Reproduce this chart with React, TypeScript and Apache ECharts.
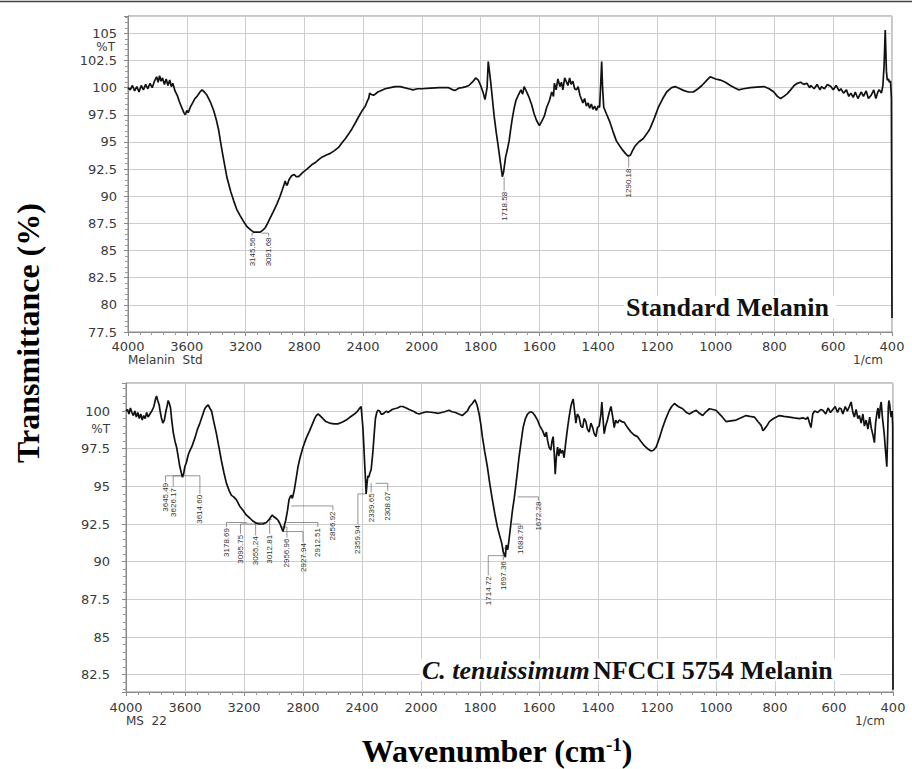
import { useEffect, useRef } from "react";
import * as echarts from "echarts";

// ---- Spectra: [wavenumber (cm-1), %T] ----
const topSpectrum: [number, number][] = [
  [4000, 100.0], [3985, 99.8], [3970, 100.2], [3955, 99.7], [3940, 100.1], [3925, 99.6], [3910, 100.2],
  [3895, 99.8], [3880, 100.3], [3865, 99.9], [3850, 100.4], [3835, 100.0], [3820, 100.6], [3805, 101.0],
  [3795, 100.5], [3785, 101.1], [3775, 100.6], [3765, 100.9], [3752, 100.3], [3740, 100.8], [3728, 100.2],
  [3716, 100.7], [3705, 100.1], [3695, 100.4], [3680, 99.7], [3665, 99.3], [3650, 98.7], [3635, 98.2],
  [3620, 97.7], [3610, 97.5], [3600, 97.9], [3590, 97.7], [3576, 98.2], [3560, 98.6], [3545, 99.0],
  [3530, 99.2], [3510, 99.6], [3497, 99.8], [3480, 99.6], [3462, 99.3], [3440, 98.7], [3417, 97.9],
  [3400, 97.1], [3383, 96.1], [3370, 95.0], [3360, 94.2], [3340, 92.7], [3326, 91.7], [3300, 90.4],
  [3281, 89.6], [3260, 88.8], [3236, 88.2], [3210, 87.6], [3190, 87.2], [3165, 86.9], [3145, 86.7],
  [3120, 86.7], [3100, 86.7], [3080, 86.9], [3066, 87.1], [3050, 87.5], [3032, 88.0], [3010, 88.6],
  [2986, 89.3], [2965, 90.0], [2952, 90.5], [2940, 91.0], [2930, 91.4], [2920, 91.0], [2914, 91.1],
  [2905, 91.5], [2896, 91.7], [2885, 91.9], [2868, 92.0], [2855, 91.8], [2839, 91.8], [2810, 92.2],
  [2782, 92.5], [2750, 92.9], [2725, 93.1], [2700, 93.4], [2680, 93.6], [2650, 93.8], [2623, 93.95],
  [2595, 94.2], [2567, 94.5], [2545, 94.9], [2521, 95.3], [2500, 95.7], [2476, 96.2], [2455, 96.7],
  [2431, 97.3], [2410, 97.8], [2385, 98.3], [2370, 98.8], [2362, 99.0], [2355, 99.5], [2347, 99.4],
  [2330, 99.3], [2317, 99.4], [2300, 99.6], [2283, 99.7], [2250, 99.9], [2215, 100.0], [2180, 100.1],
  [2147, 100.1], [2120, 100.0], [2090, 99.9], [2060, 99.8], [2030, 99.9], [2000, 99.9], [1970, 99.95],
  [1940, 100.0], [1909, 100.0], [1895, 99.8], [1886, 99.75], [1875, 99.95], [1863, 100.0], [1850, 100.1],
  [1840, 100.2], [1825, 100.6], [1817, 100.9], [1808, 100.7], [1800, 100.2], [1792, 99.6], [1785, 98.9],
  [1778, 100.0], [1774, 102.4], [1770, 101.5], [1766, 100.6], [1760, 99.0], [1754, 97.4], [1747, 95.9],
  [1740, 94.6], [1733, 93.2], [1726, 91.8], [1722, 92.2], [1715, 93.6], [1709, 94.3], [1703, 95.1],
  [1697, 96.3], [1692, 97.2], [1686, 98.1], [1680, 98.8], [1672, 99.3], [1663, 99.8], [1657, 99.4],
  [1652, 100.1], [1645, 99.7], [1635, 99.1], [1626, 98.4], [1618, 97.6], [1610, 97.0], [1600, 96.5],
  [1592, 96.9], [1583, 97.4], [1575, 98.2], [1566, 98.8], [1558, 99.6], [1552, 99.2], [1549, 100.4],
  [1543, 99.8], [1537, 100.8], [1530, 100.1], [1525, 100.5], [1520, 99.8], [1514, 100.9], [1509, 100.6],
  [1503, 100.2], [1497, 100.9], [1492, 100.3], [1486, 100.6], [1480, 99.9], [1474, 99.8], [1468, 100.1],
  [1462, 99.3], [1452, 98.6], [1446, 99.0], [1440, 98.3], [1434, 98.6], [1429, 98.1], [1423, 98.5],
  [1418, 98.0], [1412, 98.3], [1406, 97.9], [1400, 98.3], [1395, 98.2], [1391, 100.5], [1388, 102.4],
  [1385, 100.0], [1381, 98.2], [1372, 97.6], [1361, 96.9], [1350, 96.0], [1338, 95.1], [1326, 94.6],
  [1315, 94.2], [1306, 93.9], [1298, 93.7], [1290, 93.8], [1283, 94.2], [1275, 94.6], [1262, 95.0],
  [1247, 95.3], [1236, 95.7], [1224, 96.2], [1210, 97.1], [1195, 98.2], [1180, 99.0], [1167, 99.6],
  [1150, 100.0], [1138, 100.1], [1125, 99.95], [1110, 99.75], [1093, 99.6], [1076, 99.6], [1060, 99.9],
  [1047, 100.2], [1033, 100.6], [1019, 101.0], [1000, 100.8], [984, 100.7], [967, 100.5], [950, 100.2],
  [936, 100.0], [922, 99.8], [905, 99.9], [882, 100.0], [860, 100.05], [836, 100.1], [818, 99.9],
  [802, 99.6], [790, 99.2], [779, 99.0], [768, 99.2], [756, 99.45], [745, 99.8], [733, 100.2],
  [722, 100.4], [711, 100.5], [700, 100.3], [690, 100.4], [680, 100.0], [676, 100.2], [665, 99.9],
  [655, 100.3], [645, 99.8], [640, 100.1], [630, 99.9], [620, 100.3], [608, 100.1], [600, 99.8],
  [590, 100.2], [580, 99.7], [574, 99.9], [565, 99.5], [555, 99.8], [547, 99.2], [540, 99.5],
  [532, 99.1], [525, 99.6], [516, 99.0], [505, 99.6], [497, 99.2], [488, 99.7], [480, 99.0],
  [471, 99.3], [462, 99.8], [455, 99.0], [448, 99.6], [443, 99.8], [436, 99.5], [431, 100.2],
  [427, 102.0], [423, 105.3], [419, 101.5], [416, 100.7], [412, 100.8], [409, 100.5], [405, 100.6],
  [402, 99.0], [400, 78.8],
];

const bottomSpectrum: [number, number][] = [
  [4000, 100.0], [3990, 100.1], [3980, 99.8], [3970, 100.2], [3960, 99.9], [3950, 99.7], [3940, 100.0],
  [3930, 99.6], [3920, 99.9], [3910, 99.5], [3900, 99.8], [3890, 99.4], [3880, 99.7], [3870, 99.5],
  [3860, 99.9], [3850, 99.6], [3838, 99.8], [3825, 100.0], [3811, 100.3], [3800, 100.8], [3793, 101.0],
  [3785, 100.7], [3775, 100.4], [3767, 99.9], [3759, 99.5], [3750, 99.2], [3740, 99.4], [3729, 100.0],
  [3720, 100.4], [3714, 100.7], [3706, 100.5], [3698, 100.2], [3690, 99.4], [3680, 98.6], [3668, 98.0],
  [3657, 97.6], [3645, 96.9], [3635, 96.3], [3625, 95.9], [3617, 95.6], [3610, 95.8], [3601, 96.3],
  [3590, 96.6], [3578, 97.1], [3565, 97.4], [3555, 97.6], [3544, 97.9], [3530, 98.3], [3515, 98.8],
  [3499, 99.2], [3485, 99.6], [3466, 100.15], [3455, 100.3], [3443, 100.4], [3432, 100.2], [3420, 100.0],
  [3405, 99.3], [3387, 98.5], [3370, 97.6], [3353, 96.7], [3336, 95.9], [3319, 95.2], [3300, 94.7],
  [3285, 94.4], [3270, 94.3], [3251, 94.1], [3230, 93.7], [3206, 93.4], [3185, 93.1], [3161, 92.9],
  [3140, 92.7], [3116, 92.55], [3095, 92.5], [3071, 92.5], [3060, 92.55], [3048, 92.6], [3035, 92.75],
  [3026, 92.85], [3016, 93.0], [3008, 93.1], [3000, 93.0], [2992, 92.95], [2980, 92.85], [2969, 92.75],
  [2958, 92.55], [2947, 92.3], [2940, 92.1], [2936, 92.0], [2930, 92.2], [2924, 92.5], [2917, 92.75],
  [2905, 93.4], [2895, 94.1], [2887, 94.3], [2879, 94.4], [2872, 94.2], [2868, 94.2], [2860, 94.7],
  [2850, 95.3], [2834, 96.3], [2820, 96.9], [2800, 97.6], [2778, 98.2], [2755, 98.7], [2738, 99.1],
  [2721, 99.5], [2710, 99.7], [2699, 99.8], [2685, 99.7], [2665, 99.5], [2645, 99.3], [2620, 99.2],
  [2590, 99.15], [2564, 99.15], [2535, 99.25], [2507, 99.4], [2480, 99.6], [2451, 99.8], [2430, 100.0],
  [2415, 100.2], [2406, 100.3], [2400, 99.6], [2394, 98.9], [2388, 97.8], [2383, 96.7], [2377, 95.6],
  [2372, 94.5], [2366, 95.2], [2360, 95.7], [2354, 95.6], [2346, 95.9], [2338, 96.1], [2333, 96.6],
  [2327, 97.2], [2318, 98.4], [2309, 99.5], [2300, 99.9], [2293, 100.05], [2280, 100.0], [2270, 99.8],
  [2259, 99.8], [2245, 99.9], [2235, 100.0], [2225, 99.9], [2210, 100.0], [2195, 100.1], [2180, 100.15],
  [2160, 100.2], [2140, 100.3], [2124, 100.3], [2100, 100.2], [2080, 100.1], [2068, 100.05], [2045, 99.95],
  [2030, 99.85], [2011, 99.8], [2000, 99.85], [1980, 99.95], [1960, 99.9], [1940, 99.85], [1920, 99.95],
  [1905, 100.05], [1895, 99.95], [1883, 99.9], [1872, 99.8], [1860, 99.7], [1852, 99.85], [1843, 100.0],
  [1835, 100.3], [1826, 100.5], [1817, 100.75], [1810, 100.4], [1803, 99.8], [1797, 99.1], [1792, 98.3],
  [1784, 97.3], [1775, 96.3], [1767, 95.2], [1758, 94.1], [1750, 93.2], [1741, 92.3], [1733, 91.7],
  [1726, 91.2], [1722, 90.7], [1718, 90.5], [1714, 90.3], [1711, 91.1], [1706, 90.8], [1702, 91.4],
  [1696, 92.4], [1690, 93.4], [1684, 94.2], [1679, 95.0], [1673, 96.0], [1668, 96.9], [1661, 97.9],
  [1654, 98.9], [1646, 99.5], [1639, 99.8], [1630, 99.95], [1622, 99.9], [1614, 99.7], [1605, 99.4],
  [1597, 99.0], [1588, 98.7], [1580, 98.3], [1575, 98.6], [1571, 98.05], [1566, 97.6], [1560, 97.4],
  [1556, 98.0], [1552, 98.3], [1548, 97.1], [1545, 95.8], [1541, 97.0], [1537, 97.6], [1533, 97.0],
  [1529, 97.5], [1526, 97.2], [1520, 97.4], [1515, 96.9], [1510, 97.8], [1503, 98.9], [1498, 99.6],
  [1492, 100.3], [1488, 100.6], [1484, 100.8], [1480, 100.1], [1475, 99.2], [1470, 99.8], [1464, 99.6],
  [1458, 99.0], [1452, 98.9], [1447, 99.5], [1441, 99.3], [1436, 98.8], [1430, 98.6], [1424, 99.2],
  [1418, 98.9], [1413, 98.5], [1407, 98.3], [1402, 98.9], [1396, 99.0], [1390, 99.8], [1387, 100.6],
  [1383, 99.5], [1379, 98.5], [1374, 99.0], [1368, 99.4], [1362, 99.9], [1356, 100.3], [1350, 99.6],
  [1345, 98.9], [1340, 99.4], [1334, 99.2], [1328, 99.4], [1320, 99.3], [1311, 99.25], [1300, 98.9],
  [1288, 98.6], [1277, 98.4], [1266, 98.3], [1255, 98.0], [1243, 97.7], [1232, 97.5], [1220, 97.35],
  [1212, 97.4], [1203, 97.6], [1192, 98.2], [1181, 98.9], [1170, 99.5], [1158, 100.05], [1150, 100.3],
  [1141, 100.5], [1128, 100.3], [1113, 100.15], [1100, 99.9], [1090, 99.8], [1078, 99.95], [1067, 100.05],
  [1056, 99.85], [1045, 99.7], [1034, 99.95], [1022, 100.15], [1011, 100.1], [1000, 100.05], [983, 99.7],
  [966, 99.3], [950, 99.35], [932, 99.4], [915, 99.55], [898, 99.7], [885, 99.65], [870, 99.6],
  [858, 99.3], [847, 99.05], [841, 98.7], [836, 98.8], [828, 99.0], [819, 99.3], [805, 99.5],
  [785, 99.7], [770, 99.65], [751, 99.6], [735, 99.55], [717, 99.5], [705, 99.55], [695, 99.45],
  [689, 99.6], [683, 99.2], [678, 98.9], [672, 99.8], [666, 100.0], [655, 99.9], [645, 100.1],
  [638, 100.05], [628, 99.8], [620, 100.2], [612, 99.9], [604, 100.1], [596, 100.3], [588, 99.9],
  [582, 100.2], [576, 100.15], [570, 99.8], [562, 100.3], [555, 100.0], [548, 100.3], [542, 100.6],
  [536, 99.9], [531, 99.6], [525, 100.1], [519, 99.5], [514, 99.7], [508, 99.2], [502, 99.8],
  [497, 99.0], [491, 99.4], [485, 98.8], [479, 99.6], [474, 98.9], [468, 98.4], [463, 97.9],
  [459, 99.2], [455, 99.8], [451, 100.2], [447, 99.5], [443, 100.3], [440, 100.6], [436, 99.6],
  [432, 98.9], [429, 98.3], [426, 97.5], [423, 96.8], [421, 96.3], [418, 98.5], [416, 100.2],
  [414, 100.7], [411, 100.4], [408, 99.8], [406, 99.6], [403, 100.0], [401, 99.0], [400, 81.5],
];

// ---- Peak annotations ----
const topPeakLabels = ["3145.56", "3091.68", "1718.58", "1290.18"];
const topPeakPoints: [number, number][] = [[3145, 86.6], [3092, 86.6], [1718.6, 91.7], [1290, 93.7]];
const topPeakLabelTops: [number, number][] = [[3156, 86.3], [3043, 86.3], [1720, 90.5], [1296, 92.65]];

const bottomPeakLabels = [
  "3645.49", "3626.17", "3614.60", "3178.69", "3095.75", "3055.24", "3012.81", "2956.96",
  "2927.94", "2912.51", "2856.92", "2359.94", "2339.65", "2308.07", "1714.72", "1697.36",
  "1683.79", "1672.28",
];
const bottomPeakPoints: [number, number][] = [
  [3623, 95.7], [3620, 95.7], [3614, 95.7], [3178, 92.6], [3095, 92.5], [3055, 92.6], [3012, 92.8],
  [2956, 92.3], [2936, 92.0], [2912, 92.6], [2880, 93.7], [2372, 94.5], [2340, 95.2], [2308, 95.2],
  [1714, 90.4], [1705, 90.9], [1690, 92.5], [1672, 94.3],
];
const bottomPeakLabelTops: [number, number][] = [
  [3732, 95.3], [3680, 94.96], [3499, 94.5], [3319, 92.3], [3224, 91.85], [3121, 91.75], [3026, 91.85],
  [2909, 91.6], [2800, 91.3], [2699, 92.3], [2597, 93.4], [2428, 92.5], [2338, 94.6], [2225, 94.7],
  [1772, 89.1], [1721, 90.1], [1662, 92.5], [1602, 94.05],
];

// ---- Axis ticks ----
const xTickWavenumbers = [4000, 3600, 3200, 2800, 2400, 2000, 1800, 1600, 1400, 1200, 1000, 800, 600, 400];
const topYRange = [77.5, 106.6];
const bottomYRange = [81.35, 101.86];

// Instrument x scale: 400 cm-1 per division above 2000, 200 cm-1 per division below
const toU = (w: number) => (w >= 2000 ? (4000 - w) / 400 : 5 + (2000 - w) / 200);
const fromU = (u: number) => (u <= 5 ? 4000 - u * 400 : 2000 - (u - 5) * 200);

const TICK_FONT = '"DejaVu Sans", sans-serif';
const SERIF = '"Liberation Serif", "Times New Roman", serif';

function makeX(gridIndex: number) {
  return {
    type: "value" as const,
    gridIndex,
    min: 0,
    max: xTickWavenumbers.length - 1,
    interval: 1,
    axisLine: { show: true, lineStyle: { color: "#8a8a8a", width: 1 } },
    axisTick: { show: true, length: 4, lineStyle: { color: "#8a8a8a" } },
    minorTick: { show: true, splitNumber: 5, length: 3, lineStyle: { color: "#9a9a9a" } },
    splitLine: { show: true, lineStyle: { color: "#cdcdcd", width: 1 } },
    axisLabel: {
      margin: gridIndex === 0 ? 8 : 9,
      fontFamily: TICK_FONT,
      fontSize: 13,
      lineHeight: 13,
      color: "#3a3a3a",
      formatter: (v: number) => String(fromU(v)),
    },
  };
}

function makeY(gridIndex: number, range: number[], margin: number) {
  return {
    type: "value" as const,
    gridIndex,
    min: range[0],
    max: range[1],
    minInterval: 2.5,
    maxInterval: 2.5,
    axisLine: { show: true, lineStyle: { color: "#8a8a8a", width: 1 } },
    axisTick: { show: true, length: 4, lineStyle: { color: "#8a8a8a" } },
    minorTick: { show: true, splitNumber: 5, length: 3, lineStyle: { color: "#9a9a9a" } },
    splitLine: { show: true, lineStyle: { color: "#cdcdcd", width: 1 } },
    axisLabel: {
      margin,
      fontFamily: TICK_FONT,
      fontSize: 13,
      lineHeight: 12,
      color: "#3a3a3a",
      formatter: (v: number) => {
        const k = v / 2.5;
        return Math.abs(k - Math.round(k)) < 1e-6 ? String(Math.round(v * 10) / 10) : "";
      },
    },
  };
}

function peakSeries(
  gridIndex: number,
  labels: string[],
  points: [number, number][],
  tops: [number, number][]
) {
  return {
    type: "custom" as const,
    xAxisIndex: gridIndex,
    yAxisIndex: gridIndex,
    silent: true,
    clip: false,
    data: points.map((p, i) => [toU(p[0]), p[1], toU(tops[i][0]), tops[i][1]]),
    renderItem: (params: any, api: any) => {
      const p = api.coord([api.value(0), api.value(1)]);
      const l = api.coord([api.value(2), api.value(3)]);
      return {
        type: "group",
        children: [
          {
            type: "polyline",
            shape: { points: [p, [l[0], p[1]], l] },
            style: { stroke: "#666", lineWidth: 0.7, fill: null },
          },
          {
            type: "text",
            x: l[0],
            y: l[1] + 1,
            rotation: Math.PI / 2,
            style: {
              text: labels[params.dataIndex],
              fontSize: 8,
              fontFamily: '"Liberation Sans", Arial, sans-serif',
              fill: "#333",
              align: "right",
              verticalAlign: "middle",
              textAlign: "right",
              textVerticalAlign: "middle",
            },
          },
        ],
      };
    },
  };
}

export default function App() {
  const ref = useRef<HTMLDivElement>(null);

  useEffect(() => {
    if (!ref.current) return;
    const chart = echarts.init(ref.current, undefined, { renderer: "svg" });

    const smallText = (text: string, x: number, y: number, align = "left") => ({
      type: "text",
      x,
      y,
      z: 100,
      silent: true,
      style: {
        text,
        fontFamily: TICK_FONT,
        fontSize: 12,
        lineHeight: 11,
        fill: "#3a3a3a",
        align,
        verticalAlign: "middle",
        textAlign: align,
        textVerticalAlign: "middle",
      },
    });

    chart.setOption({
      animation: false,
      backgroundColor: "#ffffff",
      grid: [
        { left: 128, right: 20, top: 16, height: 316, show: true, borderColor: "#8a8a8a", borderWidth: 1, backgroundColor: "transparent" },
        { left: 126, right: 19, top: 383, height: 309, show: true, borderColor: "#8a8a8a", borderWidth: 1, backgroundColor: "transparent" },
      ],
      xAxis: [makeX(0), makeX(1)],
      yAxis: [makeY(0, topYRange, 11), makeY(1, bottomYRange, 16)],
      series: [
        {
          type: "line",
          xAxisIndex: 0,
          yAxisIndex: 0,
          showSymbol: false,
          symbol: "none",
          silent: true,
          lineStyle: { color: "#111", width: 1.7 },
          data: topSpectrum.map(([w, v]) => [toU(w), v]),
        },
        {
          type: "line",
          xAxisIndex: 1,
          yAxisIndex: 1,
          showSymbol: false,
          symbol: "none",
          silent: true,
          lineStyle: { color: "#111", width: 1.7 },
          data: bottomSpectrum.map(([w, v]) => [toU(w), v]),
        },
        peakSeries(0, topPeakLabels, topPeakPoints, topPeakLabelTops),
        peakSeries(1, bottomPeakLabels, bottomPeakPoints, bottomPeakLabelTops),
      ],
      graphic: [
        {
          type: "line",
          z: 100,
          silent: true,
          shape: { x1: 0, y1: 1.5, x2: 912, y2: 1.5 },
          style: { stroke: "#444", lineWidth: 1.5 },
        },
        smallText("%T", 115, 46.5, "right"),
        smallText("%T", 110, 429, "right"),
        smallText("Melanin  Std", 128, 360),
        smallText("1/cm", 853, 360),
        smallText("MS  22", 126, 721),
        smallText("1/cm", 855, 721),
        {
          type: "text",
          x: 28,
          y: 333,
          z: 100,
          rotation: Math.PI / 2,
          silent: true,
          style: {
            text: "Transmittance (%)",
            font: `bold 32px ${SERIF}`,
            fill: "#000",
            align: "center",
            verticalAlign: "middle",
            textAlign: "center",
            textVerticalAlign: "middle",
          },
        },
        {
          type: "text",
          x: 497,
          y: 751,
          z: 100,
          silent: true,
          style: {
            text: "{a|Wavenumber (cm}{s|-1}{a|)}",
            align: "center",
            verticalAlign: "middle",
            textAlign: "center",
            textVerticalAlign: "middle",
            fill: "#000",
            rich: {
              a: { fontFamily: SERIF, fontWeight: "bold", fontSize: 32, fill: "#000", color: "#000" },
              s: { fontFamily: SERIF, fontWeight: "bold", fontSize: 19, fill: "#000", color: "#000", verticalAlign: "top" },
            },
          },
        },
        {
          type: "rect",
          z: 99,
          silent: true,
          shape: { x: 624, y: 296, width: 212, height: 22 },
          style: { fill: "#ffffff" },
        },
        {
          type: "text",
          x: 626,
          y: 307,
          z: 100,
          silent: true,
          style: {
            text: "Standard Melanin",
            font: `bold 26px ${SERIF}`,
            fill: "#111",
            align: "left",
            verticalAlign: "middle",
            textAlign: "left",
            textVerticalAlign: "middle",
          },
        },
        {
          type: "rect",
          z: 99,
          silent: true,
          shape: { x: 420, y: 659, width: 420, height: 22 },
          style: { fill: "#ffffff" },
        },
        {
          type: "text",
          x: 422,
          y: 670,
          z: 100,
          silent: true,
          style: {
            text: "{i|C. tenuissimum} {b|NFCCI 5754 Melanin}",
            align: "left",
            verticalAlign: "middle",
            textAlign: "left",
            textVerticalAlign: "middle",
            fill: "#111",
            rich: {
              i: { fontFamily: SERIF, fontWeight: "bold", fontStyle: "italic", fontSize: 26, fill: "#111", color: "#111" },
              b: { fontFamily: SERIF, fontWeight: "bold", fontSize: 26, fill: "#111", color: "#111" },
            },
          },
        },
      ],
    });

    return () => chart.dispose();
  }, []);

  return (
    <div
      ref={ref}
      style={{ position: "fixed", left: 0, top: 0, width: 912, height: 769, background: "#fff" }}
    />
  );
}
